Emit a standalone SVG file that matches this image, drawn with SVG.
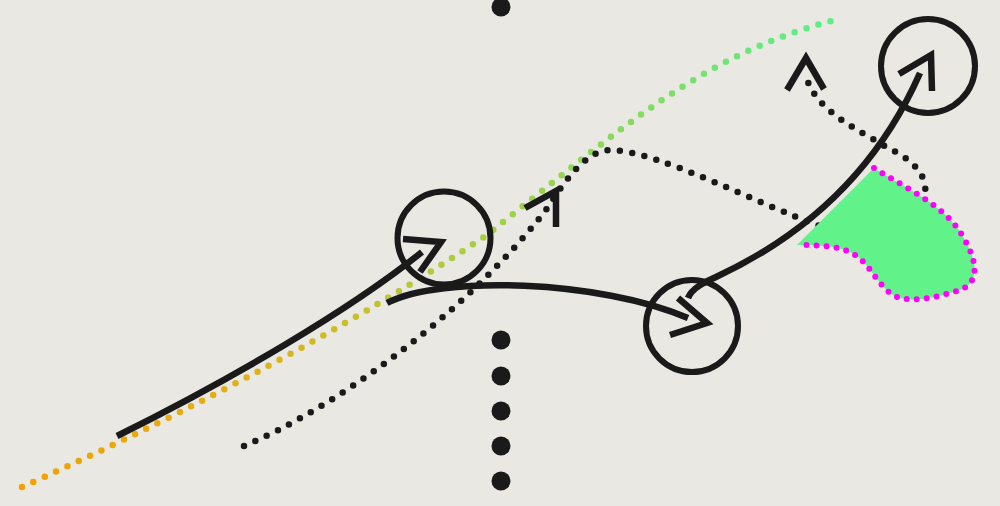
<svg xmlns="http://www.w3.org/2000/svg" width="1000" height="506" viewBox="0 0 1000 506">
<defs>
<linearGradient id="grad" gradientUnits="userSpaceOnUse" x1="22" y1="487" x2="835" y2="20">
<stop offset="0" stop-color="#f5a000"/>
<stop offset="0.3" stop-color="#dcb41c"/>
<stop offset="0.5" stop-color="#b0cc38"/>
<stop offset="0.72" stop-color="#8ad85a"/>
<stop offset="1" stop-color="#5eee88"/>
</linearGradient>
<style>
.solid{fill:none;stroke:#1a1a1a;stroke-width:6.5}
.chev{fill:none;stroke:#1a1a1a;stroke-width:6.5;stroke-linejoin:miter}
.dots{fill:none;stroke:#1a1a1a;stroke-width:6.5;stroke-linecap:round;stroke-dasharray:0 12.5}
.gdots{fill:none;stroke:url(#grad);stroke-width:6.5;stroke-linecap:round;stroke-dasharray:0 12.5}
.mdots{fill:none;stroke:#ff00ff;stroke-width:6;stroke-linecap:round;stroke-dasharray:0 10}
.ring{fill:none;stroke:#1a1a1a;stroke-width:6}
.pt{fill:#1a1a1a}
</style>
</defs>
<rect width="1000" height="506" fill="#e9e8e3"/>
<g id="dot-column">
<circle class="pt" cx="501" cy="7" r="9.5"/>
<circle class="pt" cx="501" cy="340" r="9.5"/>
<circle class="pt" cx="501" cy="376" r="9.5"/>
<circle class="pt" cx="501" cy="411" r="9.5"/>
<circle class="pt" cx="501" cy="446" r="9.5"/>
<circle class="pt" cx="501" cy="481" r="9.5"/>
</g>
<g id="gradient-trail">
<path class="gdots" d="M22,487 C150,430 330,340 484,237 C620,130 700,55 835,20"/>
</g>
<g id="dotted-path">
<path class="dots" d="M244,446 C330,410 460,320 546,210 C570,172 590,149 612,150 C660,152 760,205 820,226 C870,240 930,215 925,185 C922,168 905,156 888,148 C855,128 815,110 806,76"/>
</g>
<g id="blob">
<path d="M874,168 C900,185 945,205 962,235 C980,265 978,283 960,290 C935,298 905,305 890,293 C872,278 868,258 845,250 C830,245 810,245 797,245 L874,168 Z" fill="#62f28a"/>
<path class="mdots" d="M874,168 C900,185 945,205 962,235 C980,265 978,283 960,290 C935,298 905,305 890,293 C872,278 868,258 845,250 C830,245 810,245 797,245"/>
</g>
<g id="node-1"><circle class="ring" cx="444" cy="238" r="46.5"/></g>
<g id="node-2"><circle class="ring" cx="692" cy="326" r="46"/></g>
<g id="node-3"><circle class="ring" cx="928" cy="66" r="47"/></g>
<g id="connectors">
<path class="solid" d="M117,436 C230,380 350,310 422,252"/>
<polyline class="chev" points="403,239 441,242 420,272"/>
<path class="solid" d="M387,303 C440,275 600,280 688,318"/>
<polyline class="chev" points="678,298 707,323 670,335"/>
<path class="solid" d="M688,298 C692,288 705,282 716,277 C800,238 875,175 920,73"/>
<polyline class="chev" points="899,74 931,55 932,91"/>
<polyline class="chev" points="525,208 556,191 556,227"/>
<polyline class="chev" points="787,90 806,58 824,89"/>
</g>
</svg>
